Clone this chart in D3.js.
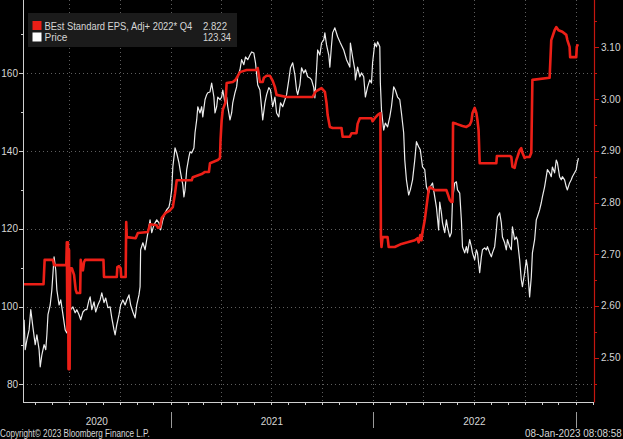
<!DOCTYPE html>
<html><head><meta charset="utf-8">
<script src="https://cdn.jsdelivr.net/npm/d3@7"></script>
<style>html,body{margin:0;padding:0;background:#000;overflow:hidden}svg{display:block}</style>
</head><body><svg id="c" width="623" height="439"></svg>
<script>
// ---------------- data ----------------
const startDate = Date.UTC(2020, 3, 10);   // left edge of the plot
const endDate = Date.UTC(2023, 1, 3);      // right edge of the plot
const leftTicks = [80, 100, 120, 140, 160];
const leftMinorTicks = [90, 110, 130, 150, 170];
const rightTicks = [2.5, 2.6, 2.7, 2.8, 2.9, 3.0, 3.1];
const rightMinorTicks = [2.45, 2.55, 2.65, 2.75, 2.85, 2.95, 3.05, 3.15];
const yearLabels = ["2020", "2021", "2022", "2023"];
const legendLabels = ["BEst Standard EPS, Adj+ 2022* Q4", "Price"];
const legendValues = ["2.822", "123.34"];
const footerLeft = "Copyright\u00A9 2023 Bloomberg Finance L.P.";
const footerRight = "08-Jan-2023 08:08:58";

// [days since startDate, price]
const priceSeries = [
[2,96.6],[4,88.9],[7,91.4],[11,94.0],[14,99.2],[18,94.5],[22,90.2],[25,92.7],[29,88.9],[31,84.5],
[34,87.6],[38,90.2],[41,88.9],[43,92.7],[45,97.9],[49,100.4],[52,104.3],[56,112.8],[59,109.4],[61,104.3],
[65,100.4],[68,101.7],[72,97.9],[76,94.0],[79,93.2],[83,97.9],[86,99.2],[90,99.9],[94,98.4],[97,99.2],
[101,97.9],[104,96.6],[108,98.6],[112,99.2],[115,99.2],[119,101.7],[121,102.5],[124,99.2],[128,101.2],[131,98.6],
[135,100.4],[139,101.7],[142,103.5],[146,101.0],[149,102.2],[153,99.7],[157,99.9],[160,97.1],[164,94.0],[166,92.7],
[169,95.3],[173,97.9],[176,100.4],[180,101.7],[184,100.4],[187,101.7],[191,103.0],[194,100.4],[198,98.6],[202,97.1],
[205,100.4],[209,103.0],[211,105.1],
[212,114.6],[216,116.4],[220,114.6],[223,117.2],[229,122.3],[232,119.0],[236,121.0],[241,122.3],[245,121.5],[248,119.7],
[252,122.3],[256,124.1],[259,124.9],[263,125.6],[265,126.9],[268,130.0],[270,135.9],[274,140.8],[277,139.5],[281,137.0],
[284,134.4],[288,131.3],[290,128.2],[292,130.0],[295,135.2],[299,138.5],[301,139.8],[304,139.5],[308,140.8],[310,144.7],
[313,148.0],[315,151.4],[319,149.8],[322,151.4],[324,148.8],[328,153.2],[331,154.5],[333,155.0],[337,155.2],[340,157.5],
[344,153.9],[346,149.8],[349,151.4],[351,153.9],[355,153.2],[358,153.9],[360,155.7],[364,152.4],[367,153.9],[369,151.4],
[373,148.0],[376,149.8],[378,152.4],[382,155.0],[385,156.5],[387,159.1],[391,160.9],
[394,163.5],[398,162.2],[401,164.2],[405,163.5],[409,164.7],[412,165.5],[416,165.2],[419,162.7],[423,157.0],[427,155.7],
[430,151.1],[432,148.0],[436,152.4],[439,154.5],[443,156.3],[446,155.7],[450,151.4],[454,153.9],[457,149.8],[461,148.8],
[464,152.4],[468,151.4],[472,153.2],[475,154.5],[479,158.3],[482,161.4],[486,162.7],[490,159.6],[493,155.7],[495,154.5],
[499,157.0],[502,161.4],[506,160.1],[509,160.9],[513,159.1],[517,158.8],[520,158.3],[524,156.3],[526,153.7],[529,160.9],
[531,166.0],[535,164.7],[538,167.8],[542,168.6],[544,170.4],[547,167.3],[551,164.7],[553,161.6],[556,167.3],[558,170.4],
[562,171.7],
[567,169.4],[572,167.8],[578,166.0],[583,163.5],[589,161.6],[590,167.8],[594,164.2],[598,160.9],[599,158.3],[603,161.6],
[607,159.1],[610,160.1],[614,159.1],[617,153.9],[621,156.5],[625,158.3],[628,157.5],[630,162.7],[634,167.8],[637,166.8],
[639,168.1],[643,166.8],[644,157.5],[646,150.6],[650,145.4],[653,147.2],[657,146.2],[661,148.8],[664,151.4],[668,156.5],
[671,155.7],[675,153.9],[679,153.2],[682,149.8],[686,144.7],[688,137.7],[691,132.6],[695,128.7],[698,130.0],[702,132.6],
[706,137.7],[709,142.4],[713,141.1],[716,140.3],[720,135.9],[724,135.2],[727,130.8],[731,129.2],[734,130.8],[738,131.8],
[742,128.2],[745,125.6],[749,119.7],[751,126.9],[754,124.1],[756,121.5],[760,119.0],[763,122.3],[765,120.5],[769,117.9],
[772,119.0],[774,127.4],[778,131.8],[781,132.1],[783,130.0],[787,129.2],[790,122.3],[792,115.4],[796,113.8],[799,115.4],
[801,113.8],[805,117.2],[808,115.4],[810,113.8],[814,112.0],[817,114.6],[819,113.8],[823,108.7],[826,112.8],[828,114.6],
[832,115.1],[835,114.6],[837,115.4],[841,113.8],[844,112.8],[846,113.8],[850,115.4],[853,119.7],[855,123.1],[859,124.1],
[862,121.5],[864,117.9],[868,116.4],[871,114.6],[873,117.2],[877,115.4],[880,114.6],[882,120.5],[886,117.2],[889,117.9],
[891,117.2],[895,112.0],[898,106.9],[900,105.1],[904,108.7],[907,112.0],[909,110.2],[913,102.5],[916,107.6],[918,113.8],
[922,117.2],[925,122.3],[927,123.1],[931,124.9],[934,126.7],[936,128.2],[940,130.8],[943,133.4],[945,135.2],[949,134.4],
[952,133.4],[954,135.9],[958,134.4],[961,137.7],[963,137.0],[967,133.4],[970,132.6],[972,133.4],[976,132.6],[979,130.8],
[981,130.0],[985,131.8],[988,132.6],[990,133.4],[994,134.4],[997,135.2],[999,137.0],[1001,138.2]
];

// [days since startDate, EPS estimate] (step line vertices)
const epsSeries = [
[0,2.642],[37,2.642],[39,2.689],[54,2.689],[56,2.679],[78,2.679],[79,2.723],[80,2.553],[81,2.723],[82,2.478],
[83,2.708],[84,2.478],[85,2.673],[88,2.673],[92,2.660],[95,2.631],[97,2.625],[103,2.625],[104,2.689],[106,2.673],
[108,2.669],[110,2.685],[112,2.689],[145,2.689],[146,2.656],[169,2.656],[170,2.675],[173,2.677],[176,2.673],[177,2.656],
[185,2.656],[186,2.762],[187,2.733],[203,2.731],[207,2.741],[225,2.743],[229,2.758],[241,2.756],[243,2.751],[247,2.752],
[250,2.770],[257,2.780],[265,2.785],[268,2.789],[270,2.791],[274,2.818],[277,2.843],[304,2.843],[306,2.849],[322,2.855],
[328,2.859],[335,2.859],[337,2.876],[351,2.882],[355,2.886],[356,2.921],[358,2.959],[360,2.979],[365,2.994],[367,3.031],
[378,3.033],[383,3.037],[391,3.052],[403,3.056],[421,3.056],[423,3.060],[427,3.033],[432,3.033],[434,3.041],[439,3.045],
[445,3.045],[450,3.035],[454,3.023],[457,3.008],[475,3.004],[522,3.004],[527,3.014],[531,3.017],[538,3.021],[544,3.014],
[547,2.992],[549,2.969],[553,2.946],[558,2.944],[574,2.944],[576,2.927],[589,2.927],[592,2.934],[601,2.934],[603,2.952],
[607,2.963],[628,2.963],[630,2.957],[634,2.963],[639,2.969],[644,2.973],[645,2.733],[646,2.714],[648,2.733],[657,2.733],
[659,2.714],[670,2.714],[682,2.720],[693,2.723],[706,2.727],[711,2.731],[713,2.723],[716,2.737],[718,2.727],[720,2.743],
[724,2.766],[727,2.791],[731,2.824],[733,2.830],[742,2.824],[763,2.824],[765,2.818],[769,2.805],[772,2.801],[774,2.801],
[775,2.954],[781,2.952],[792,2.948],[799,2.946],[805,2.950],[808,2.957],[810,2.973],[814,2.983],[817,2.973],[819,2.959],
[821,2.940],[823,2.876],[853,2.876],[854,2.890],[877,2.890],[880,2.888],[882,2.869],[886,2.867],[889,2.882],[891,2.888],
[895,2.901],[898,2.905],[900,2.896],[904,2.886],[907,2.888],[913,2.888],[916,2.896],[918,3.037],[949,3.041],[952,3.114],
[958,3.133],[961,3.139],[965,3.133],[972,3.130],[979,3.124],[981,3.114],[985,3.101],[986,3.081],[997,3.081],[998,3.101],
[1000,3.106]
];

// ---------------- drawing ----------------
const W = 623, H = 439;
const L = 23, R = 594, T = 0, B = 402;
const DAY = 864e5;
const toDate = d => new Date(startDate + d * DAY);

const x = d3.scaleUtc().domain([new Date(startDate), new Date(endDate)]).range([L, R]);
const yL = d3.scaleLinear().domain([80, 160]).range([384.3, 73.3]);
const yR = d3.scaleLinear().domain([2.5, 3.1]).range([357.7, 47.3]);

const svg = d3.select("#c");
svg.append("rect").attr("width", W).attr("height", H).attr("fill", "#000");

const FONT = "'Liberation Sans', Arial, sans-serif";
const TXT = "#d6d6d6";

// text squeezed horizontally to a target width (real glyph scaling, bbox stays honest)
function fitText(parent, str, px, py, size, width, anchor) {
  const t = parent.append("text").attr("font-family", FONT).attr("font-size", size)
    .attr("fill", TXT).attr("x", 0).attr("y", 0).text(str);
  const nat = t.node().getComputedTextLength();
  const sx = Math.min(1, width / nat);
  const w = nat * sx;
  const left = anchor === "end" ? px - w : (anchor === "middle" ? px - w / 2 : px);
  t.attr("transform", `translate(${left},${py}) scale(${sx},1)`);
  return t;
}

// grid
const grid = svg.append("g").attr("stroke", "#5e5e5e").attr("stroke-width", 1).attr("stroke-dasharray", "1,3");
grid.selectAll("line.h").data(leftTicks).join("line")
  .attr("x1", L).attr("x2", R)
  .attr("y1", d => Math.round(yL(d)) + 0.5).attr("y2", d => Math.round(yL(d)) + 0.5);
const months = d3.utcMonth.range(new Date(startDate), new Date(endDate));
const quarters = months.filter(m => m.getUTCMonth() % 3 === 0);
grid.selectAll("line.v").data(quarters).join("line")
  .attr("x1", d => Math.round(x(d)) + 0.5).attr("x2", d => Math.round(x(d)) + 0.5)
  .attr("y1", T).attr("y2", B);

// clip
svg.append("clipPath").attr("id", "clip").append("rect")
  .attr("x", L).attr("y", T).attr("width", R - L).attr("height", B - T);
const plot = svg.append("g").attr("clip-path", "url(#clip)");

// price (white)
const priceLine = d3.line().x(d => x(toDate(d[0]))).y(d => yL(d[1]));
plot.append("path").datum(priceSeries)
  .attr("fill", "none").attr("stroke", "#ececec").attr("stroke-width", 1.2)
  .attr("stroke-linejoin", "round").attr("d", priceLine);

// EPS (red)
const epsLine = d3.line().x(d => x(toDate(d[0]))).y(d => yR(d[1]));
plot.append("path").datum(epsSeries)
  .attr("fill", "none").attr("stroke", "#ec1f17").attr("stroke-width", 2.6)
  .attr("stroke-linejoin", "round").attr("d", epsLine);

// left axis
const axL = svg.append("g");
axL.append("line").attr("x1", L + 0.5).attr("x2", L + 0.5).attr("y1", T).attr("y2", B + 0.5)
  .attr("stroke", "#cfcfcf").attr("stroke-width", 1);
axL.selectAll("line.maj").data(leftTicks).join("line")
  .attr("x1", L - 4).attr("x2", L).attr("y1", d => Math.round(yL(d)) + 0.5).attr("y2", d => Math.round(yL(d)) + 0.5)
  .attr("stroke", "#cfcfcf");
axL.selectAll("line.min").data(leftMinorTicks).join("line")
  .attr("x1", L - 2).attr("x2", L).attr("y1", d => Math.round(yL(d)) + 0.5).attr("y2", d => Math.round(yL(d)) + 0.5)
  .attr("stroke", "#cfcfcf");
axL.selectAll("text").data(leftTicks).join("text")
  .attr("x", L - 5).attr("y", d => yL(d) + 3.5).attr("text-anchor", "end")
  .attr("font-family", FONT).attr("font-size", 10).attr("fill", TXT).text(d => d);

// right axis (red)
const RED_AX = "#c4160f";
const axR = svg.append("g");
axR.append("line").attr("x1", R + 0.5).attr("x2", R + 0.5).attr("y1", T).attr("y2", B + 0.5)
  .attr("stroke", RED_AX).attr("stroke-width", 1.2);
axR.selectAll("line.maj").data(rightTicks).join("line")
  .attr("x1", R).attr("x2", R + 5).attr("y1", d => Math.round(yR(d)) + 0.5).attr("y2", d => Math.round(yR(d)) + 0.5)
  .attr("stroke", RED_AX);
axR.selectAll("line.min").data(rightMinorTicks).join("line")
  .attr("x1", R).attr("x2", R + 3).attr("y1", d => Math.round(yR(d)) + 0.5).attr("y2", d => Math.round(yR(d)) + 0.5)
  .attr("stroke", RED_AX);
axR.selectAll("text").data(rightTicks).join("text")
  .attr("x", R + 7).attr("y", d => yR(d) + 3.5).attr("text-anchor", "start")
  .attr("font-family", FONT).attr("font-size", 10).attr("fill", TXT).text(d => d3.format(".2f")(d));

// bottom axis
const axB = svg.append("g");
axB.append("line").attr("x1", L).attr("x2", R).attr("y1", B + 0.5).attr("y2", B + 0.5)
  .attr("stroke", "#cfcfcf");
axB.selectAll("line.m").data(months).join("line")
  .attr("x1", d => Math.round(x(d)) + 0.5).attr("x2", d => Math.round(x(d)) + 0.5)
  .attr("y1", B).attr("y2", B + 3).attr("stroke", "#cfcfcf");
const yearStarts = yearLabels.map(y => new Date(Date.UTC(+y, 0, 1)));
axB.selectAll("line.y").data(yearStarts.filter(d => x(d) > L && x(d) < R)).join("line")
  .attr("x1", d => Math.round(x(d)) + 0.5).attr("x2", d => Math.round(x(d)) + 0.5)
  .attr("y1", 412).attr("y2", 428).attr("stroke", "#9a9a9a");
const yearSpans = yearLabels.map(y => {
  const a = Math.max(L, x(new Date(Date.UTC(+y, 0, 1))));
  const b = Math.min(R, x(new Date(Date.UTC(+y + 1, 0, 1))));
  return {label: y, a, b};
}).filter(s => s.b - s.a > 60);
axB.selectAll("text").data(yearSpans).join("text")
  .attr("x", d => (d.a + d.b) / 2).attr("y", 425).attr("text-anchor", "middle")
  .attr("font-family", FONT).attr("font-size", 10).attr("fill", TXT).text(d => d.label);

// footer
fitText(svg, footerLeft, 0, 437, 10, 150, "start");
fitText(svg, footerRight, 622, 437, 10, 97, "end");

// legend
const lg = svg.append("g");
lg.append("rect").attr("x", 28).attr("y", 13).attr("width", 209).attr("height", 34).attr("fill", "#1b1b1b");
const swatch = ["#ec1f17", "#ffffff"];
const labW = [148, 23];
const valW = [24, 28];
const valRight = [227, 231];
legendLabels.forEach((lab, i) => {
  const yy = 21 + i * 11.5;
  lg.append("rect").attr("x", 32.5).attr("y", yy).attr("width", 9).attr("height", 9).attr("fill", swatch[i]);
  fitText(lg, lab, 44.5, yy + 8.5, 11.5, labW[i], "start");
  fitText(lg, legendValues[i], valRight[i], yy + 8.5, 11.5, valW[i], "end");
});
</script></body></html>
